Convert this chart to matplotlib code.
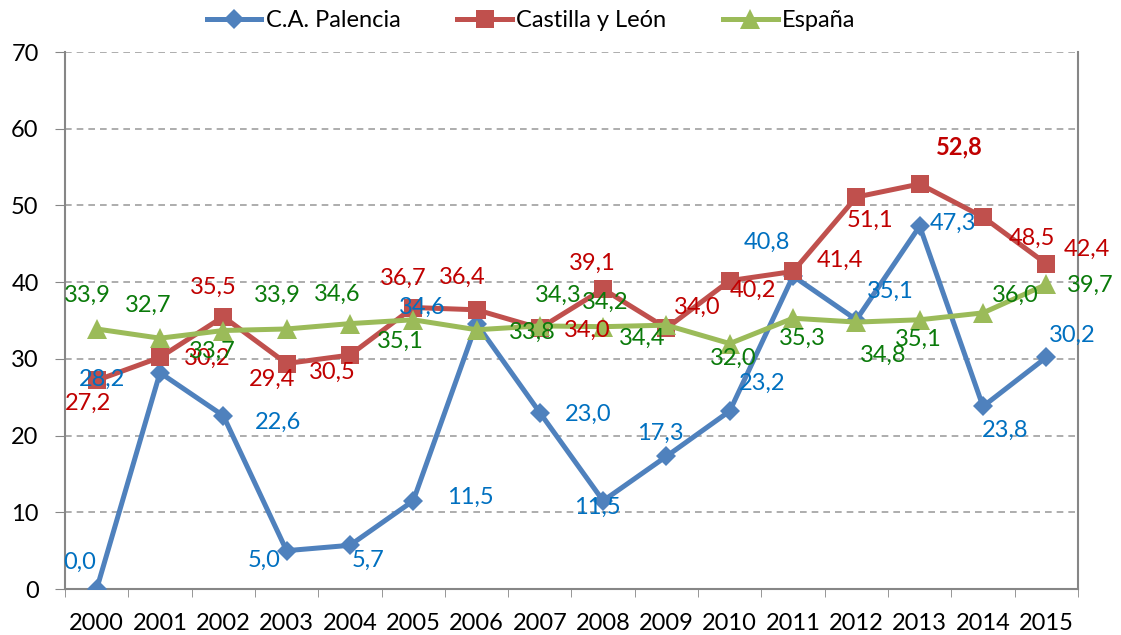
import matplotlib
matplotlib.use("Agg")
import matplotlib.pyplot as plt

years = ["2000", "2001", "2002", "2003", "2004", "2005", "2006", "2007",
         "2008", "2009", "2010", "2011", "2012", "2013", "2014", "2015"]
palencia = [0.0, 28.2, 22.6, 5.0, 5.7, 11.5, 34.6, 23.0, 11.5, 17.3, 23.2, 40.8, 35.1, 47.3, 23.8, 30.2]
castilla = [27.2, 30.2, 35.5, 29.4, 30.5, 36.7, 36.4, 34.0, 39.1, 34.0, 40.2, 41.4, 51.1, 52.8, 48.5, 42.4]
espana = [33.9, 32.7, 33.7, 33.9, 34.6, 35.1, 33.8, 34.3, 34.2, 34.4, 32.0, 35.3, 34.8, 35.1, 36.0, 39.7]
series_names = ["C.A. Palencia", "Castilla y León", "España"]

# label offsets in pixels (dx right, dy up) relative to each point
off_pal = [(-17, 27), (-58, -7), (55, -7), (-22, -10), (18, -15), (57, 3), (-54, 16), (48, -2),
           (-6, -7), (-6, 23), (32, 28), (-26, 34), (34, 28), (33, 3), (22, -24), (26, 22)]
off_cyl = [(-9, -23), (47, -1), (-10, 29), (-15, -16), (-18, -17), (-10, 29), (-14, 32), (47, -2),
           (-11, 26), (31, 21), (23, -10), (47, 11), (14, -23), (40, 37), (49, -21), (41, 14)]
off_esp = [(-9, 34), (-12, 33), (-11, -21), (-9, 34), (-13, 29), (-13, -22), (56, -3), (18, 31),
           (2, 24), (-24, -13), (3, -15), (9, -20), (27, -33), (-1, -20), (32, 18), (44, -1)]

plt.rcParams['font.family'] = ['Lato', 'DejaVu Sans']

fig = plt.figure(figsize=(11.21, 6.35), dpi=100)
ax = fig.add_axes([0.058, 0.0724, 0.9036, 0.8456])

x = list(range(len(years)))
line_cols = ["#4F81BD", "#C0504D", "#9BBB59"]
text_cols = ["#0070C0", "#C00000", "#0A7A0A"]
markers = ["D", "s", "^"]
msizes = [10, 13, 14]
data = [palencia, castilla, espana]
offs = [off_pal, off_cyl, off_esp]

handles = []
for vals, lc, mk, ms, name in zip(data, line_cols, markers, msizes, series_names):
    h, = ax.plot(x, vals, color=lc, lw=3.6, marker=mk, markersize=ms,
                 markeredgewidth=0, label=name, zorder=3)
    handles.append(h)

for vals, tc, off in zip(data, text_cols, offs):
    for i, v in enumerate(vals):
        dx, dy = off[i]
        bold = (vals is castilla and i == 13)
        ax.annotate(f"{v:.1f}".replace(".", ","), (i, v),
                    xytext=(dx * 0.72, dy * 0.72), textcoords="offset points",
                    ha="center", va="center", color=tc, fontsize=17,
                    fontweight="bold" if bold else "normal", zorder=5)

ax.set_xlim(-0.5, len(years) - 0.5)
ax.set_ylim(0, 70)
ax.set_yticks(range(0, 71, 10))
ax.set_xticks(x)
ax.set_xticklabels(years)
ax.set_xticks([i - 0.5 for i in range(len(years) + 1)], minor=True)
ax.tick_params(axis="x", which="major", length=0, labelsize=17, pad=17)
ax.tick_params(axis="x", which="minor", length=6, color="#868686")
ax.tick_params(axis="y", length=7, color="#868686", labelsize=17, pad=12)
ax.yaxis.grid(True, linestyle=(0, (4, 3)), color="#A0A0A0", lw=1.2)
ax.set_axisbelow(True)
for s in ["left", "bottom", "right"]:
    ax.spines[s].set_color("#868686")
    ax.spines[s].set_linewidth(1.5)
ax.spines["top"].set_visible(False)

fig.legend(handles=handles, loc="center", bbox_to_anchor=(0.474, 0.968), ncol=3,
           frameon=False, fontsize=17, handlelength=2.3, columnspacing=2.4,
           handletextpad=0.2)

fig.savefig("out.png", dpi=100)
